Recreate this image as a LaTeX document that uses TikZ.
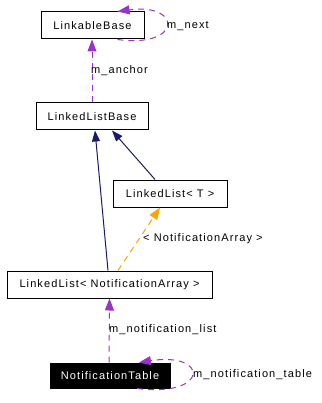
\documentclass[tikz,border=0pt]{standalone}
\usepackage{fontspec}
\newfontfamily\dotfont{Liberation Sans}[LetterSpace=10]
\usepackage{tikz}
\usetikzlibrary{arrows.meta}
\definecolor{dot-purple}{HTML}{9A32CD}
\definecolor{dot-navy}{HTML}{191970}
\definecolor{dot-orange}{HTML}{FFA500}
\colorlet{member}{dot-purple}
\colorlet{inherit}{dot-navy}
\colorlet{tmpl}{dot-orange}
\tikzset{
  classbox/.style={draw=black,line width=1pt,inner sep=0pt,minimum height=27pt},
  edgelabel/.style={anchor=west,inner sep=0pt},
  usage/.style={draw=member,line width=1pt,dash pattern=on 6pt off 5pt,-{Triangle[length=12pt,width=9pt,fill=member]}},
  derived/.style={draw=inherit,line width=1pt,-{Triangle[length=11pt,width=8pt,fill=inherit]}},
  instance/.style={draw=tmpl,line width=1pt,dash pattern=on 6pt off 5pt,-{Triangle[length=12pt,width=9pt,fill=tmpl]}},
}

\begin{document}
\begin{tikzpicture}[x=1pt, y=-1pt, font=\dotfont\fontsize{11}{13}\selectfont]
\useasboundingbox (0,0) rectangle (321,403);
% classes
\node[classbox,minimum width=103pt] (lbase) at (92.5,25.5) {LinkableBase};
\node[classbox,minimum width=112pt] (llbase) at (92,116.5) {LinkedListBase};
\node[classbox,minimum width=114pt] (llt) at (170,193.5) {LinkedList< T >};
\node[classbox,minimum width=205pt] (llna) at (109.5,284.5) {LinkedList< NotificationArray >};
\node[classbox,fill=black,text=white,minimum width=120pt,minimum height=25pt] (ntable) at (110,375.5) {NotificationTable};
% members
\draw[usage] ([xshift=25pt]lbase.south) .. controls +(65,9) and +(65,-9) .. ([xshift=25pt]lbase.north);
\node[edgelabel] (next) at (167,26) {m\_next};
\draw[usage] (llbase.north) -- ([xshift=-0.5pt]lbase.south);
\node[edgelabel] (anchor) at (91,71) {m\_anchor};
\draw[usage] ([xshift=-1pt]ntable.north) -- (llna.south);
\node[edgelabel] (list) at (109,330) {m\_notification\_list};
\draw[usage] ([xshift=27pt]ntable.south) .. controls +(73,9) and +(70,-11) .. ([xshift=29pt]ntable.north);
\node[edgelabel] (table) at (193,375) {m\_notification\_table};
% inheritance
\draw[derived] ([xshift=-1.5pt]llna.north) -- ([xshift=3pt]llbase.south);
\draw[derived] ([xshift=-15pt]llt.north) -- ([xshift=20pt]llbase.south);
% template instance
\draw[instance] ([xshift=8.5pt]llna.north) -- ([xshift=-10pt]llt.south);
\node[edgelabel] (arg) at (143,239) {< NotificationArray >};
\end{tikzpicture}
\end{document}
